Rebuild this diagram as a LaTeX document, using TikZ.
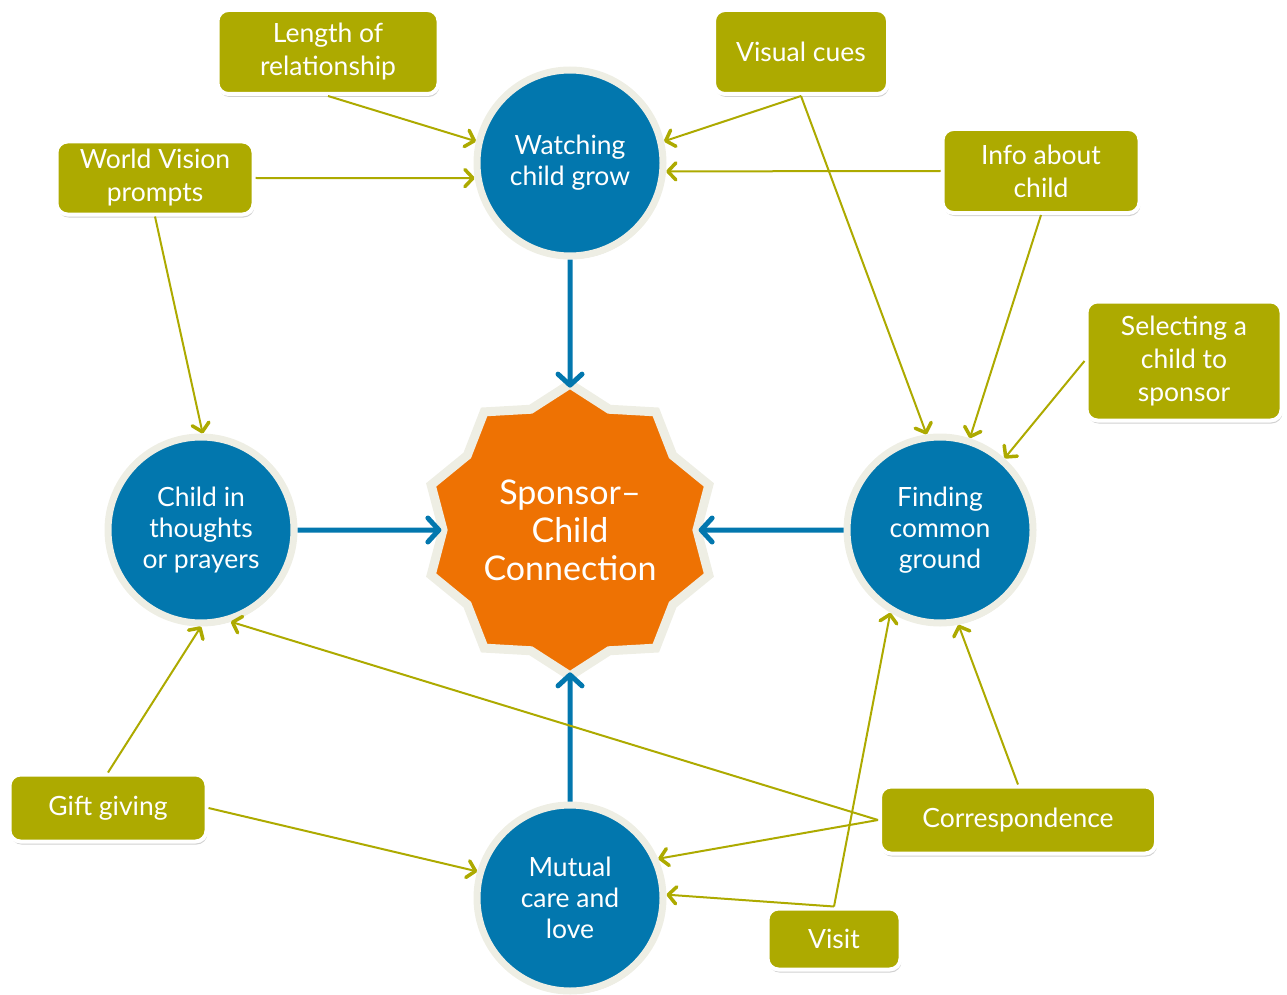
\documentclass[tikz,border=0pt]{standalone}
\usepackage{fontspec}
\setmainfont{Lato}
\usetikzlibrary{arrows.meta,shapes.geometric,shadows}
\definecolor{cblue}{HTML}{0277AE}
\definecolor{corange}{HTML}{EE7203}
\definecolor{colive}{HTML}{ADAA00}
\definecolor{cring}{HTML}{EEEEE4}
\begin{document}
\begin{tikzpicture}[x=1pt,y=-1pt,
  shad/.style={drop shadow={shadow xshift=1pt,shadow yshift=-3pt,opacity=0.3,fill=black!60}},
  circ/.style={circle,fill=cblue,draw=cring,line width=7pt,minimum size=186pt,inner sep=0pt,
    align=center,text=white,font=\fontsize{26.5}{31}\selectfont,shad},
  box/.style={rectangle,rounded corners=11pt,fill=colive,draw=white,line width=4pt,inner sep=0pt,
    align=center,text=white,font=\fontsize{26.5}{33}\selectfont,shad},
  gl/.style={draw=colive,line width=2pt,-{Straight Barb[length=8pt,width=17pt,line width=3.5pt,round]}},
  bl/.style={draw=cblue,line width=5pt,-{Straight Barb[length=11pt,width=24pt,line width=5pt,round]}}]
\useasboundingbox (0,0) rectangle (1287,995);

% circles and star
\node[circ] (watch) at (570,163) {Watching\\child grow};
\node[circ] (child) at (201,530) {Child in\\thoughts\\or prayers};
\node[circ] (find) at (940,530) {Finding\\common\\ground};
\node[circ] (mutual) at (570,898) {Mutual\\care and\\love};
\node[star,star points=10,star point ratio=1.15,minimum size=292pt,inner sep=0pt,
  fill=corange,draw=cring,line width=9pt,align=center,text=white,
  font=\fontsize{34}{38}\selectfont,shad] (star) at (570,530) {Sponsor–\\Child\\Connection};

% boxes
\node[box,minimum width=221pt,minimum height=84pt] (len) at (328,52) {Length of\\relationship};
\node[box,minimum width=174pt,minimum height=84pt] (vis) at (801,52) {Visual cues};
\node[box,minimum width=197pt,minimum height=73pt] (wv) at (155,178) {World Vision\\prompts};
\node[box,minimum width=197pt,minimum height=84pt] (info) at (1041,171) {Info about\\child};
\node[box,minimum width=195pt,minimum height=119pt] (sel) at (1184,361) {Selecting a\\child to\\sponsor};
\node[box,minimum width=197pt,minimum height=67pt] (gift) at (108,808) {Gift giving};
\node[box,minimum width=276pt,minimum height=67pt] (corr) at (1018,820) {Correspondence};
\node[box,minimum width=133pt,minimum height=61pt] (visit) at (834,939) {Visit};

% blue arrows
\draw[bl,shorten >=-9pt] (watch.south) -- (star.north);
\draw[bl,shorten >=-3pt] (child.east) -- (star.west);
\draw[bl,shorten >=-3pt] (find.west) -- (star.east);
\draw[bl,shorten >=-9pt] (mutual.north) -- (star.south);

% green connectors
\draw[gl] (len.south) -- (watch.167);
\draw[gl] (wv.east) -- (watch.189);
\draw[gl] (vis.south) -- (watch.13);
\draw[gl] (info.west) -- (watch.-5);
\draw[gl] (vis.south) -- (find.98);
\draw[gl] (info.south) -- (find.72);
\draw[gl] (sel.west) -- (find.48);
\draw[gl] (corr.north) -- (find.-79);
\draw[gl] (visit.north) -- (find.-121);
\draw[gl] (wv.south) -- (child.89);
\draw[gl] (gift.north) -- (child.-90);
\draw[gl] (corr.west) -- (child.-72);
\draw[gl] (gift.east) -- (mutual.164);
\draw[gl] (corr.west) -- (mutual.24);
\draw[gl] (visit.north) -- (mutual.2);
\end{tikzpicture}
\end{document}
